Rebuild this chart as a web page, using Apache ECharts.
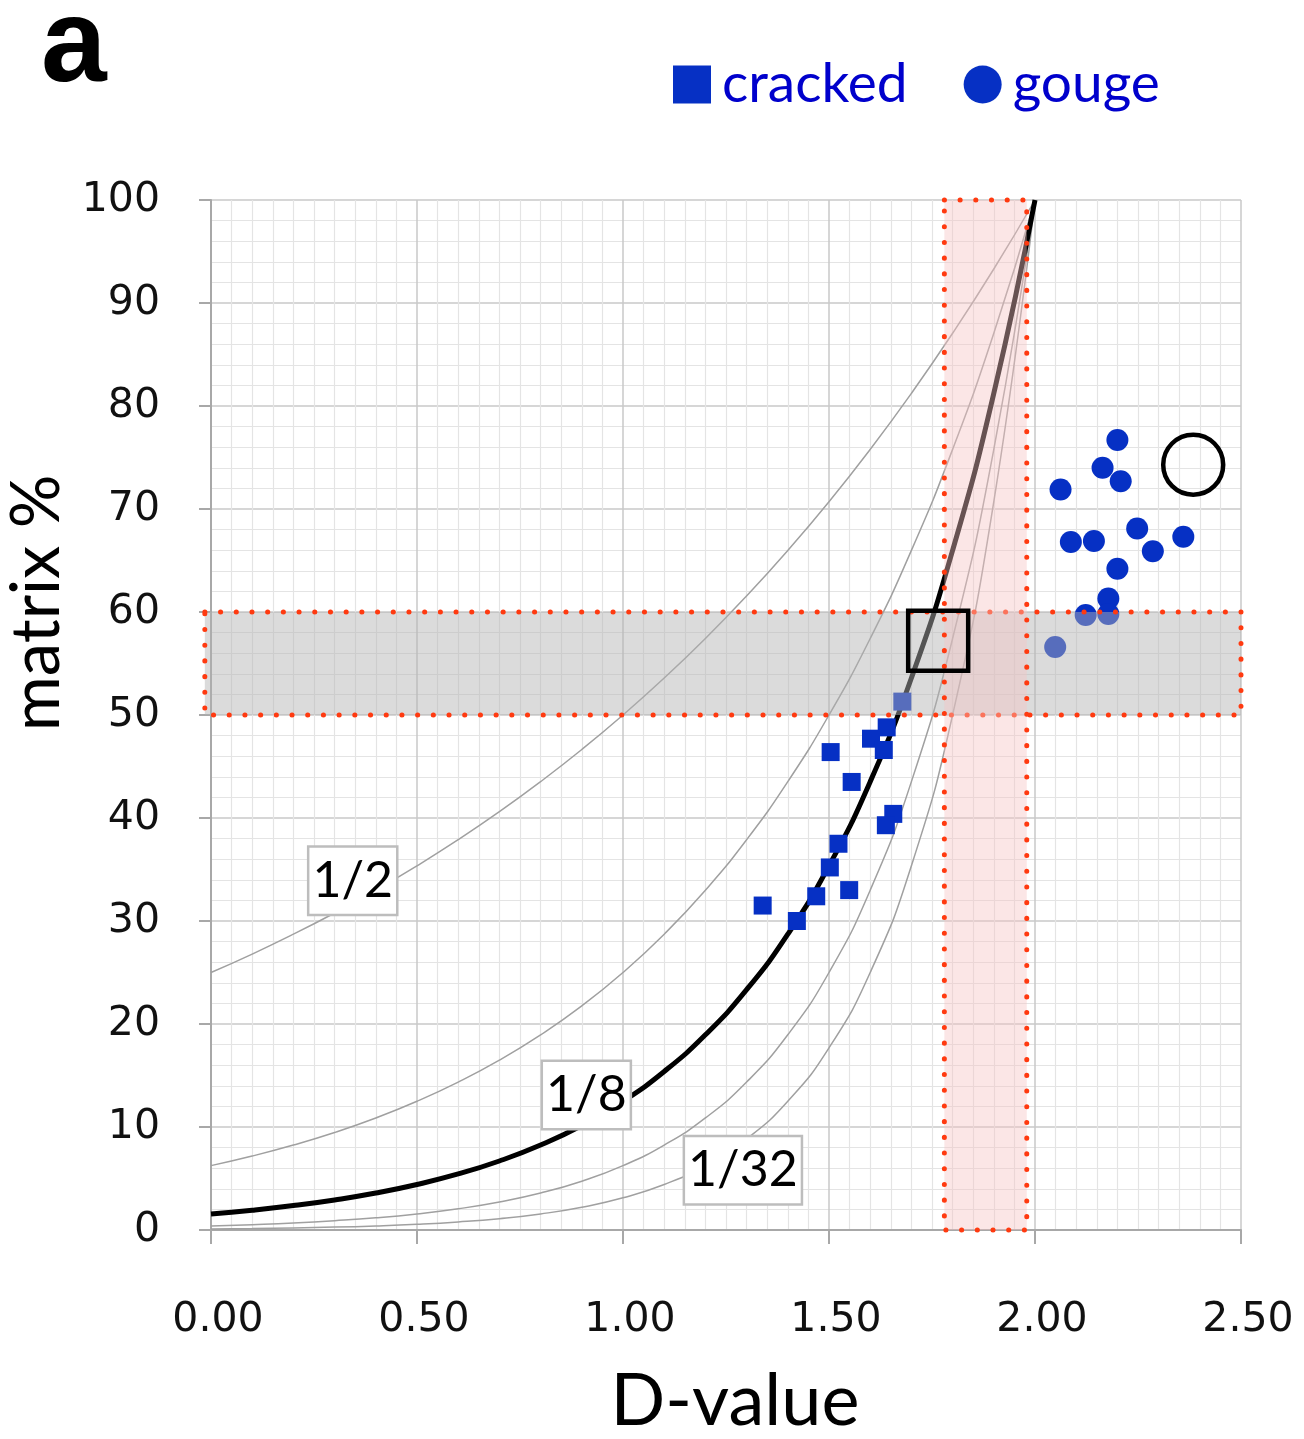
<!DOCTYPE html>
<html>
<head>
<meta charset="utf-8">
<script src="https://cdn.jsdelivr.net/npm/echarts@6/dist/echarts.min.js"></script>
<style>
html, body { margin: 0; padding: 0; background: #fff; }
#main { width: 1304px; height: 1439px; }
</style>
</head>
<body>
<div id="main"></div>
<script>
// D values for the reference curves
var dSteps = [0, 0.1, 0.2, 0.3, 0.4, 0.5, 0.6, 0.7, 0.8, 0.9, 1.0, 1.1, 1.2, 1.3, 1.4, 1.5, 1.6, 1.7, 1.8, 1.9, 2.0];
// matrix %
var curveHalf = [25.00, 26.79, 28.72, 30.78, 32.99, 35.36, 37.89, 40.61, 43.53, 46.65, 50.00, 53.59, 57.43, 61.56, 65.98, 70.71, 75.79, 81.23, 87.06, 93.30, 100];
var curveQuarter = [6.25, 7.18, 8.25, 9.47, 10.88, 12.50, 14.36, 16.49, 18.95, 21.76, 25.00, 28.72, 32.99, 37.89, 43.53, 50.00, 57.43, 65.98, 75.79, 87.06, 100];
var curveEighth = [1.56, 1.92, 2.37, 2.92, 3.59, 4.42, 5.44, 6.70, 8.25, 10.15, 12.50, 15.39, 18.95, 23.33, 28.72, 35.36, 43.53, 53.59, 65.98, 81.23, 100];
var curveSixteenth = [0.39, 0.52, 0.68, 0.90, 1.18, 1.56, 2.06, 2.72, 3.59, 4.74, 6.25, 8.25, 10.88, 14.36, 18.95, 25.00, 32.99, 43.53, 57.43, 75.79, 100];
var curveThirtySecond = [0.10, 0.14, 0.20, 0.28, 0.39, 0.55, 0.78, 1.10, 1.56, 2.21, 3.13, 4.42, 6.25, 8.84, 12.50, 17.68, 25.00, 35.36, 50.00, 70.71, 100];

// samples
var cracked = [
  [1.678, 51.3], [1.640, 48.8], [1.602, 47.7], [1.633, 46.6], [1.504, 46.4],
  [1.555, 43.5], [1.656, 40.4], [1.638, 39.3], [1.523, 37.5], [1.502, 35.2],
  [1.469, 32.4], [1.549, 33.0], [1.339, 31.5], [1.422, 30.0]
];
var gouge = [
  [2.200, 76.7], [2.164, 74.0], [2.208, 72.7], [2.062, 71.9], [2.248, 68.1],
  [2.360, 67.3], [2.087, 66.8], [2.143, 66.9], [2.286, 65.9], [2.200, 64.2],
  [2.178, 61.3], [2.123, 59.7], [2.178, 59.8], [2.049, 56.6]
];
var crackedMean = [[1.765, 57.2]];
var gougeMean = [[2.384, 74.3]];

// curve labels
var curveLabels = [
  { name: '1/2', value: [0.344, 33.9] },
  { name: '1/8', value: [0.911, 13.1] },
  { name: '1/32', value: [1.291, 5.8] }
];

// highlighted ranges [x0, x1, y0, y1]
var matrixBand = [[-0.015, 2.5, 50, 60]];
var dBand = [[1.78, 1.98, 0, 100]];

var xTicks = { min: 0, max: 2.5, step: 0.5 };
var yTicks = { min: 0, max: 100, step: 10 };

function pairs(ys) {
  return dSteps.map(function (d, i) { return [d, ys[i]]; });
}

var thinStyle = { color: '#a0a0a0', width: 1.5 };
function curve(name, ys, style) {
  return {
    name: name, type: 'line', data: pairs(ys), smooth: true,
    showSymbol: false, symbol: 'none', lineStyle: style, z: 2, silent: true
  };
}

function bandSeries(data, fill, z) {
  return {
    type: 'custom', z: z, silent: true, data: data, clip: false,
    renderItem: function (params, api) {
      var p0 = api.coord([api.value(0), api.value(3)]);
      var p1 = api.coord([api.value(1), api.value(2)]);
      return {
        type: 'rect',
        shape: { x: p0[0], y: p0[1], width: p1[0] - p0[0], height: p1[1] - p0[1] },
        style: {
          fill: fill, stroke: '#ff3a10', lineWidth: 5,
          lineDash: [0.1, 15.6], lineCap: 'round'
        }
      };
    }
  };
}

var blue = '#0630c4';
var myChart = echarts.init(document.getElementById('main'));
var option = {
  animation: false,
  backgroundColor: '#fff',
  title: {
    text: 'a', left: 36, top: -16,
    textStyle: { fontSize: 118, fontWeight: 'bold', color: '#000', fontFamily: 'Liberation Sans Narrow, Liberation Sans, Arial' }
  },
  legend: {
    data: ['cracked', 'gouge'],
    left: 668, top: 52,
    itemWidth: 38, itemHeight: 38, itemGap: 56,
    textStyle: { color: '#0000cc', fontSize: 55, fontFamily: 'Lato', padding: [0, 0, 0, 6] }
  },
  grid: { left: 211, right: 63, top: 200, bottom: 209, outerBoundsMode: 'none', containLabel: false },
  xAxis: {
    type: 'value', min: xTicks.min, max: xTicks.max, interval: xTicks.step,
    name: 'D-value', nameLocation: 'middle', nameGap: 136,
    nameTextStyle: { fontSize: 72, color: '#000', fontFamily: 'Lato', padding: [0, 0, 0, 18] },
    axisLine: { lineStyle: { color: '#a8a8a8', width: 2 } },
    axisTick: { show: true, length: 14, lineStyle: { color: '#a8a8a8', width: 2 } },
    axisLabel: {
      margin: 70, fontSize: 41, color: '#111', fontFamily: 'DejaVu Sans', padding: [0, 0, 0, 14],
      formatter: function (v) { return v.toFixed(2); }
    },
    splitLine: { show: true, lineStyle: { color: '#c9c9c9', width: 1.5 } },
    minorTick: { show: false, splitNumber: 10 },
    minorSplitLine: { show: true, lineStyle: { color: '#e4e4e4', width: 1.2 } }
  },
  yAxis: {
    type: 'value', min: yTicks.min, max: yTicks.max, interval: yTicks.step,
    name: 'matrix %', nameLocation: 'middle', nameGap: 134,
    nameTextStyle: { fontSize: 67, color: '#000', fontFamily: 'Lato', padding: [0, 0, 0, 224] },
    axisLine: { show: true, lineStyle: { color: '#a8a8a8', width: 2 } },
    axisTick: { show: true, length: 12, lineStyle: { color: '#a8a8a8', width: 2 } },
    axisLabel: { margin: 51, fontSize: 41, color: '#111', fontFamily: 'DejaVu Sans' },
    splitLine: { show: true, lineStyle: { color: '#c9c9c9', width: 1.5 } },
    minorTick: { show: false, splitNumber: 5 },
    minorSplitLine: { show: true, lineStyle: { color: '#e4e4e4', width: 1.2 } }
  },
  series: [
    curve('1/2', curveHalf, thinStyle),
    curve('1/4', curveQuarter, thinStyle),
    curve('1/16', curveSixteenth, thinStyle),
    curve('1/32', curveThirtySecond, thinStyle),
    curve('1/8', curveEighth, { color: '#000', width: 5 }),
    {
      name: 'cracked', type: 'scatter', data: cracked, symbol: 'rect', symbolSize: 18, z: 3,
      itemStyle: { color: blue, opacity: 1 }
    },
    {
      name: 'gouge', type: 'scatter', data: gouge, symbol: 'circle', symbolSize: 22, z: 3,
      itemStyle: { color: blue, opacity: 1 }
    },
    bandSeries(matrixBand, 'rgba(178,178,178,0.47)', 5),
    bandSeries(dBand, 'rgba(246,196,196,0.42)', 6),
    {
      name: 'cracked mean', type: 'scatter', data: crackedMean, symbol: 'rect', symbolSize: 60, z: 8,
      itemStyle: { color: 'rgba(0,0,0,0)', borderColor: '#000', borderWidth: 4.5, opacity: 1 }
    },
    {
      name: 'gouge mean', type: 'scatter', data: gougeMean, symbol: 'circle', symbolSize: 60, z: 8,
      itemStyle: { color: 'rgba(0,0,0,0)', borderColor: '#000', borderWidth: 4.5, opacity: 1 }
    },
    {
      name: 'curve labels', type: 'scatter', data: curveLabels, symbolSize: 1, z: 9,
      itemStyle: { color: 'rgba(0,0,0,0)', opacity: 1 },
      label: {
        show: true, position: 'inside', formatter: '{b}', opacity: 1,
        fontSize: 50, color: '#000', fontFamily: 'Lato',
        backgroundColor: '#fff', borderColor: '#bdbdbd', borderWidth: 2.5,
        padding: [9, 3, 7, 3]
      }
    }
  ]
};
myChart.setOption(option);
</script>
</body>
</html>
